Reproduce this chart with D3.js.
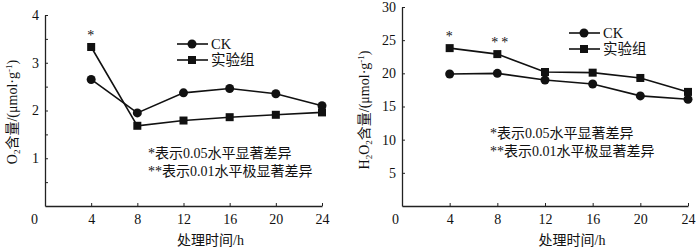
<!DOCTYPE html>
<html>
<head>
<meta charset="utf-8">
<script src="https://cdn.jsdelivr.net/npm/d3@7/dist/d3.min.js"></script>
<style>
  body { margin: 0; background: #fff; }
  text { font-family: "Liberation Serif", "Noto Sans CJK SC", serif; fill: #111; }
</style>
</head>
<body>
<svg id="chart" width="700" height="247"></svg>
<script>
"use strict";

// time points (h)
const hours = [4, 8, 12, 16, 20, 24];

// O2 content
const o2CK  = [2.65, 1.95, 2.37, 2.46, 2.35, 2.10];
const o2Exp = [3.33, 1.68, 1.79, 1.86, 1.91, 1.96];

// H2O2 content
const h2o2CK  = [19.9, 20.0, 19.0, 18.4, 16.6, 16.1];
const h2o2Exp = [23.8, 22.9, 20.2, 20.1, 19.3, 17.2];

// significance marks (index into hours)
const o2Sig   = [{ i: 0, mark: '*' }];
const h2o2Sig = [{ i: 0, mark: '*' }, { i: 1, mark: '**' }];

const seriesNames = ['CK', '实验组'];
const xTicks = [0, 4, 8, 12, 16, 20, 24];
const notes = ['*表示0.05水平显著差异', '**表示0.01水平极显著差异'];
const xTitle = '处理时间/h';

const svg = d3.select('#chart');

function drawPanel(p) {
  const x = d3.scaleLinear().domain([0, 24]).range([p.left, p.right]);
  const y = d3.scaleLinear().domain([0, p.yMax]).range([p.bottom, p.top]);
  const g = svg.append('g');

  // x axis (ticks inward)
  const xAxis = g.append('g')
      .attr('transform', 'translate(0,' + p.bottom + ')')
      .call(d3.axisBottom(x).tickValues(xTicks).tickSize(-3).tickSizeOuter(0).tickPadding(8));
  xAxis.selectAll('text').attr('font-size', 14).attr('dy', '0.71em');
  xAxis.selectAll('.tick').filter(d => d === 0).select('line').remove();
  xAxis.selectAll('.tick').filter(d => d === 0).select('text').attr('dx', p.zeroShift);

  // y axis (ticks inward)
  const yAxis = g.append('g')
      .attr('transform', 'translate(' + p.left + ',0)')
      .call(d3.axisLeft(y).tickValues(p.yTicks).tickSize(-3).tickSizeOuter(0).tickPadding(6)
        .tickFormat(d => p.yLabels.includes(d) ? d : ''));
  yAxis.selectAll('text').attr('font-size', 14);
  yAxis.selectAll('.tick').filter(d => d === 0).remove();

  g.selectAll('.domain').attr('stroke', '#222').attr('stroke-width', 1.3);
  g.selectAll('.tick line').attr('stroke', '#222');

  // y title
  const yt = g.append('text')
      .attr('transform', 'translate(' + p.yTitleX + ',' + p.yTitleY + ') rotate(-90)')
      .attr('text-anchor', 'middle')
      .attr('font-size', 14);
  p.yTitle.forEach(part => {
    yt.append('tspan')
      .attr('font-size', part.sub || part.sup ? 9 : 14)
      .attr('baseline-shift', part.sub ? '-3' : part.sup ? '5' : null)
      .text(part.t);
  });

  // x title
  g.append('text')
    .attr('x', (p.left + p.right) / 2 + 27)
    .attr('y', 245)
    .attr('text-anchor', 'middle')
    .attr('font-size', 14)
    .text(xTitle);

  const line = d3.line().x(d => x(d[0])).y(d => y(d[1]));
  const sets = [p.ck, p.exp];
  sets.forEach((vals, s) => {
    const pts = hours.map((h, i) => [h, vals[i]]);
    g.append('path').datum(pts)
      .attr('d', line).attr('fill', 'none').attr('stroke', '#111').attr('stroke-width', 1.6);
    if (s === 0) {
      g.selectAll(null).data(pts).enter().append('circle')
        .attr('cx', d => x(d[0])).attr('cy', d => y(d[1])).attr('r', 4.5).attr('fill', '#111');
    } else {
      g.selectAll(null).data(pts).enter().append('rect')
        .attr('x', d => x(d[0]) - 4).attr('y', d => y(d[1]) - 4)
        .attr('width', 8).attr('height', 8).attr('fill', '#111');
    }
  });

  // significance marks
  p.sig.forEach(m => {
    const top = Math.max(p.ck[m.i], p.exp[m.i]);
    g.append('text')
      .attr('x', x(hours[m.i]) + (m.mark.length > 1 ? 4 : 1))
      .attr('y', y(top) - 15 + 8)
      .attr('text-anchor', 'middle')
      .attr('font-size', 14)
      .attr('letter-spacing', 3)
      .text(m.mark);
  });

  // legend
  seriesNames.forEach((name, s) => {
    const ly = p.legY + s * 16;
    g.append('line')
      .attr('x1', p.legX).attr('x2', p.legX + 31).attr('y1', ly).attr('y2', ly)
      .attr('stroke', '#111').attr('stroke-width', 1.6);
    if (s === 0) {
      g.append('circle').attr('cx', p.legX + 15).attr('cy', ly).attr('r', 4.5).attr('fill', '#111');
    } else {
      g.append('rect').attr('x', p.legX + 11).attr('y', ly - 4).attr('width', 8).attr('height', 8).attr('fill', '#111');
    }
    g.append('text')
      .attr('x', p.legX + 34).attr('y', ly + 5)
      .attr('font-size', 14.5)
      .text(name);
  });

  // notes
  notes.forEach((n, k) => {
    g.append('text')
      .attr('x', p.noteX).attr('y', p.noteY + k * 18)
      .attr('font-size', 14)
      .text(n);
  });
}

drawPanel({
  left: 45, right: 322, top: 15, bottom: 206,
  yMax: 4, yTicks: d3.range(0, 4.01, 0.5), yLabels: [1, 2, 3, 4],
  zeroShift: -11,
  ck: o2CK, exp: o2Exp, sig: o2Sig,
  yTitle: [{ t: 'O' }, { t: '2', sub: true }, { t: '含量/(μmol·g' }, { t: '-1', sup: true }, { t: ')' }],
  yTitleX: 17, yTitleY: 112,
  legX: 177, legY: 44,
  noteX: 148, noteY: 158
});

drawPanel({
  left: 402, right: 688, top: 7, bottom: 206,
  yMax: 30, yTicks: [0, 5, 10, 15, 20, 25, 30], yLabels: [5, 10, 15, 20, 25, 30],
  zeroShift: -7,
  ck: h2o2CK, exp: h2o2Exp, sig: h2o2Sig,
  yTitle: [{ t: 'H' }, { t: '2', sub: true }, { t: 'O' }, { t: '2', sub: true }, { t: '含量/(μmol·g' }, { t: '-1', sup: true }, { t: ')' }],
  yTitleX: 369, yTitleY: 110,
  legX: 569, legY: 33,
  noteX: 490, noteY: 138
});
</script>
</body>
</html>
